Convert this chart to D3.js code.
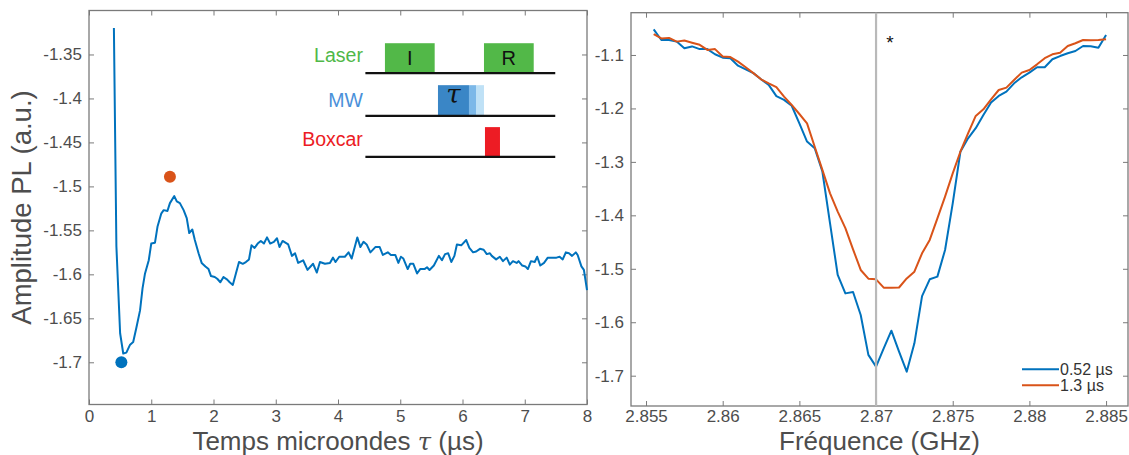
<!DOCTYPE html>
<html><head><meta charset="utf-8">
<script src="https://cdn.jsdelivr.net/npm/d3@7"></script>
<style>
html,body{margin:0;padding:0;background:#fff;}
svg{display:block;font-family:"Liberation Sans",Arial,sans-serif;}
</style></head>
<body>
<svg id="chart" width="1129" height="455"></svg>
<script>
// ---------- Left panel data: PL amplitude vs microwave time tau ----------
const tauUs = [0.40,0.44,0.50,0.55,0.60,0.66,0.71,0.76,0.82,0.86,0.90,0.96,1.00,1.06,1.10,1.16,1.20,1.26,1.30,1.37,1.41,1.46,1.52,1.57,1.61,1.66,1.70,1.76,1.81,1.87,1.92,1.96,2.02,2.06,2.11,2.16,2.22,2.26,2.31,2.36,2.41,2.47,2.52,2.57,2.61,2.66,2.71,2.76,2.81,2.86,2.91,2.97,3.02,3.06,3.11,3.20,3.26,3.31,3.36,3.44,3.51,3.60,3.66,3.71,3.79,3.87,3.92,3.96,4.02,4.11,4.17,4.22,4.31,4.36,4.41,4.46,4.52,4.60,4.67,4.72,4.80,4.85,4.92,4.97,5.01,5.05,5.12,5.16,5.21,5.27,5.32,5.39,5.43,5.47,5.54,5.62,5.67,5.72,5.77,5.82,5.87,5.91,5.98,6.06,6.11,6.17,6.22,6.28,6.34,6.39,6.44,6.47,6.54,6.60,6.65,6.71,6.76,6.81,6.87,6.90,6.96,7.01,7.05,7.10,7.16,7.20,7.25,7.31,7.37,7.44,7.51,7.56,7.61,7.66,7.71,7.76,7.82,7.85,7.91,7.95,8.00];
const plAmp = [-1.320,-1.568,-1.667,-1.690,-1.689,-1.680,-1.677,-1.661,-1.641,-1.616,-1.599,-1.584,-1.565,-1.564,-1.546,-1.531,-1.527,-1.528,-1.519,-1.511,-1.517,-1.519,-1.527,-1.536,-1.553,-1.549,-1.561,-1.576,-1.587,-1.591,-1.594,-1.602,-1.603,-1.605,-1.609,-1.603,-1.606,-1.609,-1.612,-1.599,-1.586,-1.588,-1.586,-1.583,-1.567,-1.570,-1.565,-1.562,-1.565,-1.558,-1.565,-1.563,-1.559,-1.569,-1.562,-1.566,-1.579,-1.576,-1.587,-1.584,-1.595,-1.588,-1.598,-1.586,-1.588,-1.587,-1.581,-1.586,-1.580,-1.580,-1.575,-1.582,-1.558,-1.569,-1.563,-1.566,-1.575,-1.569,-1.569,-1.578,-1.575,-1.578,-1.578,-1.587,-1.580,-1.582,-1.594,-1.588,-1.588,-1.599,-1.594,-1.594,-1.592,-1.595,-1.590,-1.579,-1.584,-1.577,-1.576,-1.586,-1.579,-1.566,-1.567,-1.561,-1.570,-1.575,-1.574,-1.571,-1.572,-1.577,-1.576,-1.579,-1.583,-1.580,-1.585,-1.581,-1.589,-1.585,-1.587,-1.585,-1.590,-1.591,-1.594,-1.585,-1.586,-1.580,-1.590,-1.587,-1.581,-1.581,-1.581,-1.580,-1.583,-1.575,-1.576,-1.579,-1.575,-1.578,-1.591,-1.595,-1.618];
const markerTau = [0.52, 1.30];
const markerAmp = [-1.700, -1.489];
const leftXTicks = [0,1,2,3,4,5,6,7,8];
const leftYTicks = [-1.35,-1.4,-1.45,-1.5,-1.55,-1.6,-1.65,-1.7];
const leftXLabel = "Temps microondes ";
const leftYLabel = "Amplitude PL (a.u.)";

// pulse-sequence inset (in left-panel data units)
const pulseRowNames = ["Laser","MW","Boxcar"];
const pulseRowLevel = [-1.3712,-1.4198,-1.4664];
const pulseLineStart = 4.44, pulseLineEnd = 7.49;
const pulseBoxRow   = [0,0,1,1,1,2];
const pulseBoxStart = [4.754,6.345,5.606,6.104,6.217,6.361];
const pulseBoxEnd   = [5.553,7.144,6.104,6.217,6.345,6.602];
const pulseBoxTop   = [-1.3372,-1.3372,-1.3849,-1.3849,-1.3849,-1.4326];
const pulseBoxText  = ["I","R","τ","","",""];

// ---------- Right panel data: ODMR spectra ----------
const freqGHz = [2.8555,2.8560,2.8565,2.8570,2.8575,2.8580,2.8585,2.8590,2.8595,2.8600,2.8605,2.8610,2.8615,2.8620,2.8625,2.8630,2.8635,2.8640,2.8645,2.8650,2.8655,2.8660,2.8665,2.8670,2.8675,2.8680,2.8685,2.8690,2.8695,2.8700,2.8705,2.8710,2.8715,2.8720,2.8725,2.8730,2.8735,2.8740,2.8745,2.8750,2.8755,2.8760,2.8765,2.8770,2.8775,2.8780,2.8785,2.8790,2.8795,2.8800,2.8805,2.8810,2.8815,2.8820,2.8825,2.8830,2.8835,2.8840,2.8845,2.8850];
const odmr052 = [-1.052,-1.072,-1.072,-1.075,-1.0875,-1.084,-1.089,-1.089,-1.0987,-1.105,-1.106,-1.120,-1.127,-1.134,-1.1455,-1.156,-1.177,-1.184,-1.195,-1.228,-1.262,-1.2746,-1.318,-1.415,-1.5116,-1.546,-1.5434,-1.5864,-1.661,-1.683,-1.6488,-1.6158,-1.655,-1.6925,-1.6394,-1.551,-1.5197,-1.5147,-1.4648,-1.3775,-1.281,-1.256,-1.237,-1.2123,-1.189,-1.1767,-1.1686,-1.153,-1.1418,-1.133,-1.123,-1.123,-1.108,-1.102,-1.0968,-1.0925,-1.0832,-1.0836,-1.0864,-1.0626];
const odmr13 = [-1.061,-1.069,-1.068,-1.075,-1.073,-1.077,-1.081,-1.0906,-1.089,-1.103,-1.104,-1.1125,-1.123,-1.134,-1.1455,-1.153,-1.160,-1.178,-1.1935,-1.2104,-1.228,-1.2716,-1.315,-1.3588,-1.393,-1.424,-1.4636,-1.5022,-1.5185,-1.5197,-1.5353,-1.5353,-1.535,-1.518,-1.5054,-1.471,-1.446,-1.4056,-1.365,-1.3214,-1.281,-1.2466,-1.2141,-1.2017,-1.183,-1.1655,-1.161,-1.1468,-1.133,-1.128,-1.1175,-1.106,-1.0987,-1.0957,-1.0832,-1.0781,-1.0719,-1.0723,-1.0721,-1.0706];
const seriesNames = ["0.52 µs","1.3 µs"];
const refFreq = 2.870;
const starFreq = 2.8709, starAmp = -1.070;
const rightXTicks = [2.855,2.86,2.865,2.87,2.875,2.88,2.885];
const rightYTicks = [-1.1,-1.2,-1.3,-1.4,-1.5,-1.6,-1.7];
const rightXLabel = "Fréquence (GHz)";

// ---------- styles ----------
const BLUE = "#0072BD", ORANGE = "#D95319";
const AX = "#7a7a7a", TXT = "#4d4d4d";
const svg = d3.select("#chart");

function panel(x, y, xt, yt, xfmt, yfmt, xpad) {
  const g = svg.append("g");
  const [x0, x1] = x.range(), [y0, y1] = y.range();
  const mk = (axis, tr) => {
    const a = g.append("g").attr("transform", tr).call(axis);
    a.select(".domain").remove();
    a.selectAll("line").attr("stroke", AX).attr("stroke-width", 1);
    a.selectAll("text").attr("fill", TXT).style("font-size", "17px")
      .style("font-family", '"Liberation Sans", Arial, sans-serif');
    return a;
  };
  mk(d3.axisBottom(x).tickValues(xt).tickFormat(xfmt).tickSizeInner(-5).tickSizeOuter(0).tickPadding(xpad), `translate(0,${y0})`);
  mk(d3.axisTop(x).tickValues(xt).tickFormat("").tickSizeInner(-5).tickSizeOuter(0), `translate(0,${y1})`);
  mk(d3.axisLeft(y).tickValues(yt).tickFormat(yfmt).tickSizeInner(-5).tickSizeOuter(0).tickPadding(7), `translate(${x0},0)`);
  mk(d3.axisRight(y).tickValues(yt).tickFormat("").tickSizeInner(-5).tickSizeOuter(0), `translate(${x1},0)`);
  g.append("rect").attr("x", x0).attr("y", y1).attr("width", x1 - x0).attr("height", y0 - y1)
    .attr("fill", "none").attr("stroke", AX).attr("stroke-width", 1.3);
  return g;
}

// ---------- LEFT PANEL ----------
const xL = d3.scaleLinear().domain([0, 8]).range([89, 587]);
const yL = d3.scaleLinear().domain([-1.748, -1.3]).range([404.5, 10.5]);
panel(xL, yL, leftXTicks, leftYTicks, d3.format("d"), d => String(+d.toFixed(2)), 5.5);

const gl = svg.append("g");
gl.append("path")
  .datum(tauUs.map((t, i) => [t, plAmp[i]]))
  .attr("fill", "none").attr("stroke", BLUE).attr("stroke-width", 2).attr("stroke-linejoin", "round")
  .attr("d", d3.line().x(d => xL(d[0])).y(d => yL(d[1])));
gl.selectAll("circle.mk").data(markerTau).enter().append("circle")
  .attr("cx", (d) => xL(d)).attr("cy", (d, i) => yL(markerAmp[i])).attr("r", 6)
  .attr("fill", (d, i) => i === 0 ? BLUE : ORANGE);

// inset pulse diagram
const labelColors = ["#4fb848", "#4a90d9", "#ec1c24"];
const boxFills = ["#52b848", "#52b848", "#3a86c6", "#7cb8e8", "#bfe1f6", "#ed1c24"];
const gi = svg.append("g");
gi.selectAll("rect.pb").data(pulseBoxStart).enter().append("rect")
  .attr("x", d => xL(d)).attr("width", (d, i) => xL(pulseBoxEnd[i]) - xL(d))
  .attr("y", (d, i) => yL(pulseBoxTop[i]))
  .attr("height", (d, i) => yL(pulseRowLevel[pulseBoxRow[i]]) - yL(pulseBoxTop[i]))
  .attr("fill", (d, i) => boxFills[i]);
gi.selectAll("line.pl").data(pulseRowLevel).enter().append("line")
  .attr("x1", xL(pulseLineStart)).attr("x2", xL(pulseLineEnd))
  .attr("y1", d => yL(d)).attr("y2", d => yL(d))
  .attr("stroke", "#111").attr("stroke-width", 2.2);
gi.selectAll("text.pn").data(pulseRowNames).enter().append("text")
  .attr("x", xL(pulseLineStart) - 2.5)
  .attr("y", (d, i) => yL(pulseRowLevel[i]) - [11.5, 9, 10.5][i])
  .attr("text-anchor", "end").attr("fill", (d, i) => labelColors[i])
  .style("font-size", "19.5px").text(d => d);
gi.selectAll("text.pt").data(pulseBoxText).enter().filter(d => d !== "").append("text")
  .attr("x", (d, i) => xL((pulseBoxStart[i] + pulseBoxEnd[i]) / 2))
  .attr("y", (d, i) => yL(pulseRowLevel[pulseBoxRow[i]]) - (d === "τ" ? 13 : 8))
  .attr("text-anchor", "middle").attr("fill", "#111")
  .style("font-size", d => d === "τ" ? "26px" : "20px")
  .style("font-family", d => d === "τ" ? '"DejaVu Serif", serif' : null)
  .style("font-style", d => d === "τ" ? "italic" : null)
  .text(d => d);

// axis titles
const xt = svg.append("text").attr("x", 338).attr("y", 449.5).attr("text-anchor", "middle")
  .attr("fill", TXT).style("font-size", "26px");
xt.append("tspan").text(leftXLabel);
xt.append("tspan").style("font-family", '"DejaVu Serif", serif').style("font-style", "italic").style("font-size", "24px").text("τ");
xt.append("tspan").text(" (µs)");
svg.append("text").attr("transform", `translate(31,${(404.5 + 10.5) / 2}) rotate(-90)`)
  .attr("text-anchor", "middle").attr("fill", TXT).style("font-size", "27.5px").text(leftYLabel);

// ---------- RIGHT PANEL ----------
const xR = d3.scaleLinear().domain([2.85402, 2.88643]).range([631, 1128]);
const yR = d3.scaleLinear().domain([-1.7567, -1.0209]).range([406, 12.7]);
panel(xR, yR, rightXTicks, rightYTicks, d => String(+d.toFixed(3)), d => String(+d.toFixed(1)), 4);

const gr = svg.append("g");
const lineR = d3.line().x(d => xR(d[0])).y(d => yR(d[1]));
[odmr052, odmr13].forEach((s, k) => {
  gr.append("path").datum(freqGHz.map((f, i) => [f, s[i]]))
    .attr("fill", "none").attr("stroke", k === 0 ? BLUE : ORANGE).attr("stroke-width", 2)
    .attr("stroke-linejoin", "round").attr("d", lineR);
});
gr.append("line").attr("x1", xR(refFreq)).attr("x2", xR(refFreq))
  .attr("y1", yR.range()[0]).attr("y2", yR.range()[1])
  .attr("stroke", "#b9b9b9").attr("stroke-width", 2.2);
gr.append("text").attr("x", xR(starFreq)).attr("y", yR(starAmp) + 10)
  .attr("text-anchor", "middle").attr("fill", "#111").style("font-size", "19px").text("*");

// legend
const lg = svg.append("g");
seriesNames.forEach((n, k) => {
  const yy = 369.3 + k * 16;
  lg.append("line").attr("x1", 1022).attr("x2", 1059).attr("y1", yy).attr("y2", yy)
    .attr("stroke", k === 0 ? BLUE : ORANGE).attr("stroke-width", 2);
  lg.append("text").attr("x", 1060).attr("y", yy + 5.5).attr("fill", "#333")
    .style("font-size", "16px").text(n);
});

svg.append("text").attr("x", (631 + 1128) / 2).attr("y", 449.5).attr("text-anchor", "middle")
  .attr("fill", TXT).style("font-size", "26px").text(rightXLabel);
</script>
</body></html>
